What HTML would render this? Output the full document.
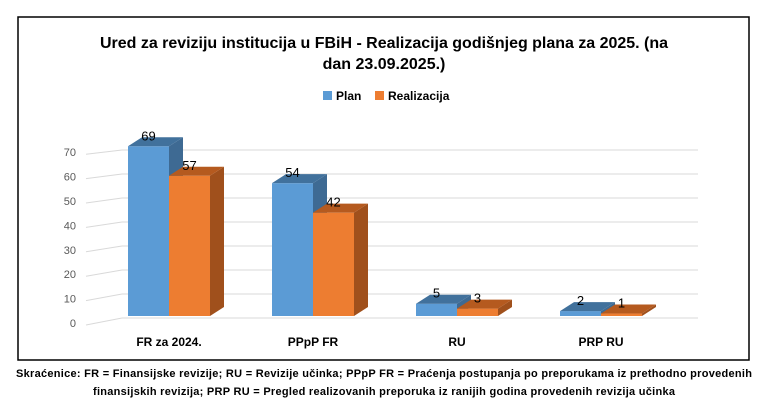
<!DOCTYPE html>
<html><head><meta charset="utf-8"><style>
body{margin:0;background:#fff;width:768px;height:405px;overflow:hidden}
svg text{font-family:"Liberation Sans",sans-serif}
</style></head><body>
<svg id="c" width="768" height="405">
<rect x="18" y="17" width="731" height="343" fill="#fff" stroke="#000" stroke-width="1.5"/>
<text x="384" y="48" text-anchor="middle" font-size="16" font-weight="bold" textLength="568">Ured za reviziju institucija u FBiH - Realizacija godišnjeg plana za 2025. (na</text>
<text x="384" y="69" text-anchor="middle" font-size="16" font-weight="bold">dan 23.09.2025.)</text>
<rect x="323" y="91" width="9" height="9" fill="#5b9bd5"/>
<text x="336" y="100" font-size="12" font-weight="bold">Plan</text>
<rect x="375" y="91" width="9" height="9" fill="#ed7d31"/>
<text x="388" y="100" font-size="12" font-weight="bold">Realizacija</text>
<g id="grid"></g><g id="bars"></g>
<text x="384" y="377" text-anchor="middle" font-size="11" font-weight="bold" textLength="736">Skraćenice: FR = Finansijske revizije; RU = Revizije učinka; PPpP FR = Praćenja postupanja po preporukama iz prethodno provedenih</text>
<text x="384" y="395" text-anchor="middle" font-size="11" font-weight="bold" textLength="582">finansijskih revizija; PRP RU = Pregled realizovanih preporuka iz ranijih godina provedenih revizija učinka</text>
</svg>
<script>
const categories=["FR za 2024.","PPpP FR","RU","PRP RU"];
const planValues=[69,54,5,2];
const realValues=[57,42,3,1];
const tickValues=[0,10,20,30,40,50,60,70];
const NS="http://www.w3.org/2000/svg";
function el(t,a,p){const e=document.createElementNS(NS,t);for(const k in a)e.setAttribute(k,a[k]);p.appendChild(e);return e;}
const yBack=v=>318-v*2.4, yTick=v=>323-v*2.44, yBar=v=>316-v*2.46;
const xCat=i=>128+i*144;
const g=document.getElementById('grid'), b=document.getElementById('bars');
tickValues.forEach(v=>{
  const l=el('line',{x1:122,x2:698,y1:yBack(v),y2:yBack(v),stroke:'#d9d9d9'},g);
  
  
  const d=el('line',{x1:86,y1:yTick(v)+2,x2:122,y2:yBack(v),stroke:'#d9d9d9'},g);
  
  
  const t=el('text',{x:76,y:yTick(v)+4,'text-anchor':'end','font-size':11,fill:'#595959'},g);
  t.textContent=v;
  
  
});
const W=41,DX=14,DY=9;
function bar(x,v,front,top,side,name){
  const y=yBar(v),yb=316;
  const s=el('polygon',{points:`${x+W},${y} ${x+W+DX},${y-DY} ${x+W+DX},${yb-DY} ${x+W},${yb}`,fill:side},b);
  
  
  const f=el('rect',{x:x,y:y,width:W,height:yb-y,fill:front},b);
  
  
  const t=el('polygon',{points:`${x},${y} ${x+DX},${y-DY} ${x+W+DX},${y-DY} ${x+W},${y}`,fill:top},b);
  
  
  const lb=el('text',{x:x+W/2,y:y-6,'text-anchor':'middle','font-size':13},b);
  lb.textContent=v;
  
  
}
categories.forEach((c,i)=>{
  const x=xCat(i);
  bar(x,planValues[i],'#5b9bd5','#41719c','#3e6a93','bar-plan-'+i);
  bar(x+W,realValues[i],'#ed7d31','#b55a1f','#a0501c','bar-realizacija-'+i);
  const t=el('text',{x:x+W,y:346,'text-anchor':'middle','font-size':12,'font-weight':'bold'},b);
  t.textContent=c;
  
  
});
</script>
</body></html>
